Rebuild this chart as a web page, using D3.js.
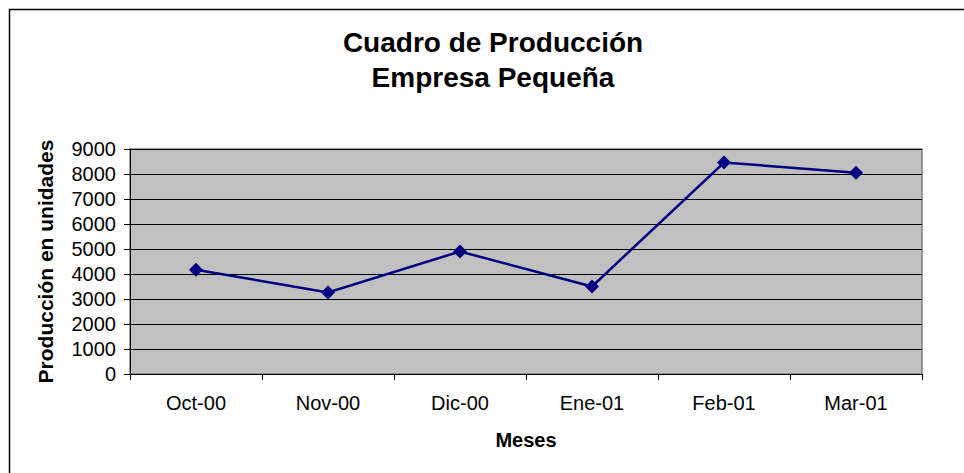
<!DOCTYPE html>
<html>
<head>
<meta charset="utf-8">
<script src="https://cdn.jsdelivr.net/npm/d3@7"></script>
<style>
  body { margin: 0; background: #fff; }
  svg { display: block; font-family: "Liberation Sans", Arial, sans-serif; }
</style>
</head>
<body>
<svg width="964" height="473"></svg>
<script>
// data
var meses = ["Oct-00", "Nov-00", "Dic-00", "Ene-01", "Feb-01", "Mar-01"];
var produccion = [4170, 3260, 4900, 3500, 8460, 8050];
var yTicks = [0, 1000, 2000, 3000, 4000, 5000, 6000, 7000, 8000, 9000];

var svg = d3.select("svg");
var margin = { top: 149, right: 42, bottom: 99, left: 130 };
var width = 964 - margin.left - margin.right;
var height = 473 - margin.top - margin.bottom;

// outer chart border (runs off the right/bottom edge)
svg.append("rect")
   .attr("x", 9.5).attr("y", 9.5)
   .attr("width", 1000).attr("height", 500)
   .attr("fill", "none")
   .attr("stroke", "#000")
   .attr("stroke-width", 1.5);

// title
var title = svg.append("text")
   .attr("text-anchor", "middle")
   .attr("font-weight", "bold")
   .attr("font-size", 28);
title.append("tspan").attr("x", 493).attr("y", 52).text("Cuadro de Producción");
title.append("tspan").attr("x", 493).attr("y", 87).text("Empresa Pequeña");

var g = svg.append("g")
   .attr("transform", "translate(" + margin.left + "," + margin.top + ")");

var x = d3.scaleBand().domain(meses).range([0, width]);
var y = d3.scaleLinear().domain([0, 9000]).range([height, 0]);

// plot area
g.append("rect")
 .attr("width", width).attr("height", height)
 .attr("fill", "#c0c0c0")
 .attr("stroke", "#808080")
 .attr("stroke-width", 1.5);

// gridlines
g.selectAll(".grid")
 .data(yTicks.filter(function(d) { return d > 0; }))
 .enter().append("line")
 .attr("x1", 0).attr("x2", width)
 .attr("y1", function(d) { return Math.round(y(d)) + 0.5; })
 .attr("y2", function(d) { return Math.round(y(d)) + 0.5; })
 .attr("stroke", "#000")
 .attr("stroke-width", 1);

// y axis
var yAxis = g.append("g")
 .call(d3.axisLeft(y).tickValues(yTicks).tickSize(6).tickPadding(8).tickFormat(d3.format("d")));
yAxis.attr("font-size", 20).attr("font-family", "Liberation Sans, Arial, sans-serif");
yAxis.selectAll("text").attr("fill", "#000");
yAxis.selectAll("line, path").attr("stroke", "#000");
yAxis.select(".domain").attr("d", "M0.5,0V" + height);

// x axis
var xAxis = g.append("g")
 .attr("transform", "translate(0," + height + ")")
 .call(d3.axisBottom(x).tickSize(0).tickPadding(22));
xAxis.attr("font-size", 20).attr("font-family", "Liberation Sans, Arial, sans-serif");
xAxis.selectAll("text").attr("fill", "#000");
xAxis.select(".domain").attr("stroke", "#000").attr("d", "M0,0.5H" + width);
// tick marks sit on the category boundaries
xAxis.selectAll(".sep")
 .data(d3.range(meses.length + 1))
 .enter().append("line")
 .attr("x1", function(i) { return Math.round(i * x.step()) + 0.5; })
 .attr("x2", function(i) { return Math.round(i * x.step()) + 0.5; })
 .attr("y1", 0).attr("y2", 6)
 .attr("stroke", "#000");

// axis titles
svg.append("text")
   .attr("transform", "translate(53," + (margin.top + height / 2) + ") rotate(-90)")
   .attr("text-anchor", "middle")
   .attr("font-weight", "bold")
   .attr("font-size", 21)
   .text("Producción en unidades");

svg.append("text")
   .attr("x", margin.left + width / 2)
   .attr("y", 447)
   .attr("text-anchor", "middle")
   .attr("font-weight", "bold")
   .attr("font-size", 20)
   .text("Meses");

// line + markers
var cx = function(d, i) { return x(meses[i]) + x.bandwidth() / 2; };
g.append("path")
 .datum(produccion)
 .attr("fill", "none")
 .attr("stroke", "#000080")
 .attr("stroke-width", 2.5)
 .attr("d", d3.line().x(cx).y(function(d) { return y(d); }));

g.selectAll(".pt")
 .data(produccion)
 .enter().append("path")
 .attr("transform", function(d, i) { return "translate(" + cx(d, i) + "," + y(d) + ")"; })
 .attr("d", "M0,-7L7,0L0,7L-7,0Z")
 .attr("fill", "#000080");
</script>
</body>
</html>
